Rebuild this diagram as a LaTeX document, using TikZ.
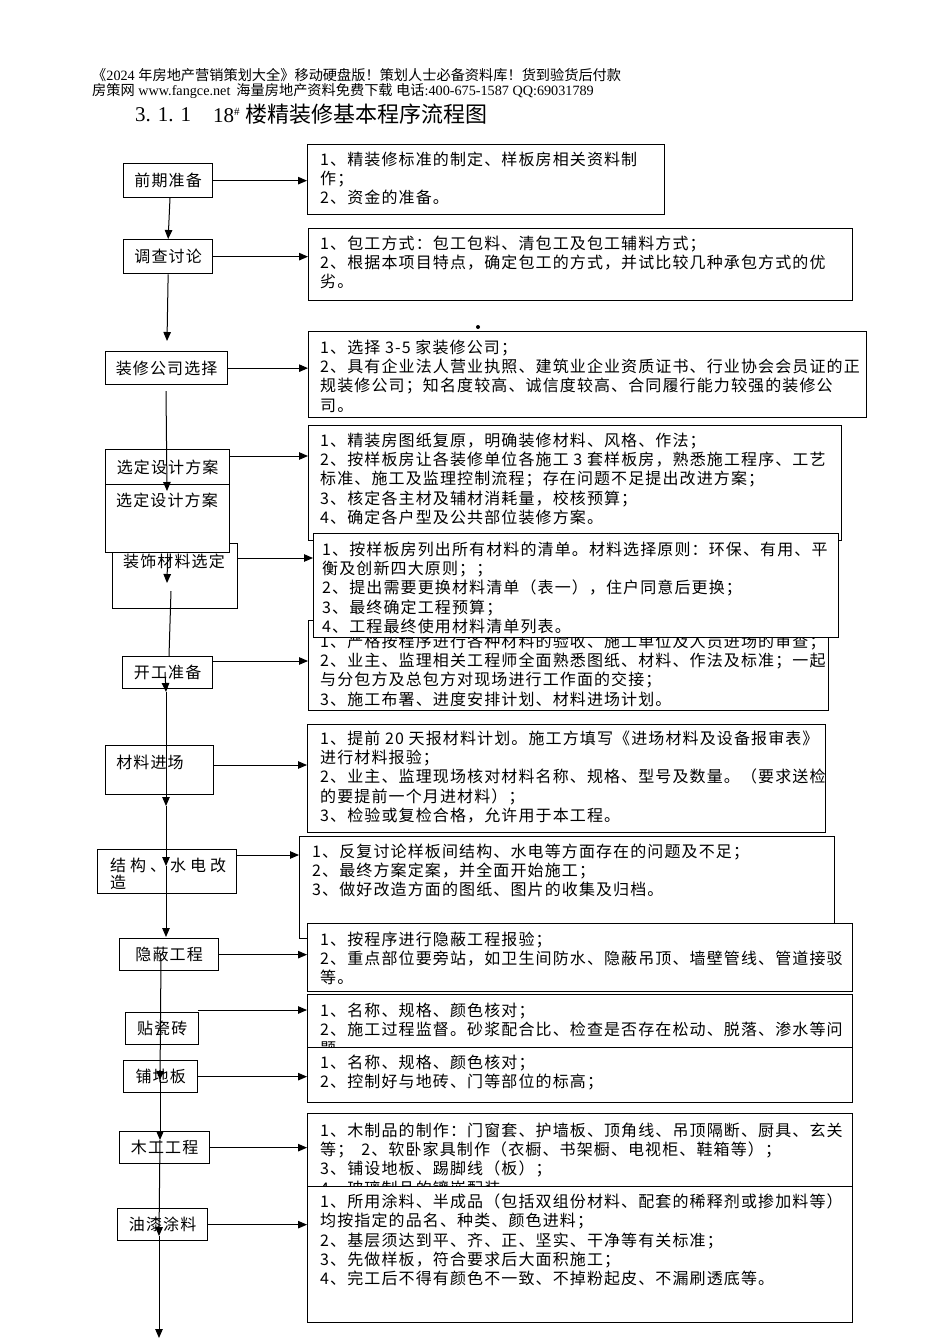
\documentclass[tikz,border=0pt]{standalone}
\usepackage{fontspec}
\setmainfont{Liberation Serif}
\newfontfamily\cjk[LetterSpace=7]{Noto Sans CJK SC}
\newfontfamily\cjkh{Noto Sans CJK SC}
\usetikzlibrary{arrows.meta}
\tikzset{
  box/.style={draw, line width=1.3pt, fill=white, inner sep=0pt, anchor=north west},
  lab/.style={font=\cjk\fontsize{16}{19.3}\selectfont, inner sep=0pt},
  body/.style={font=\cjk\fontsize{16}{19.3}\selectfont, align=left, inner sep=0pt, anchor=north west},
  arr/.style={-{Triangle[length=9pt,width=7.5pt]}, line width=1pt},
  ln/.style={line width=1pt}
}
\begin{document}
\begin{tikzpicture}[x=1pt,y=-1pt]
\useasboundingbox (0,0) rectangle (950,1344);
\fill[white] (0,0) rectangle (950,1344);

% header
\node[anchor=west, inner sep=0pt, font=\fontsize{14.2}{16}\selectfont] (h1) at (92,75)
  {{\cjkh 《}2024 {\cjkh 年房地产营销策划大全》移动硬盘版！策划人士必备资料库！货到验货后付款}};
\node[anchor=west, inner sep=0pt, font=\fontsize{14.2}{16}\selectfont] (h2) at (92,91)
  {{\cjkh 房策网} www.fangce.net\hspace{6pt}{\cjkh 海量房地产资料免费下载} {\cjkh 电话}:400-675-1587 QQ:69031789};
\node[anchor=west, inner sep=0pt, font=\fontsize{21}{24}\selectfont] (t0) at (135,115)
  {3.\hspace{7pt}1.\hspace{7pt}1};
\node[anchor=west, inner sep=0pt, font=\fontsize{21}{24}\selectfont] (t1) at (213,115)
  {18\raisebox{7pt}{\fontsize{11}{11}\selectfont\#}};
\node[anchor=west, inner sep=0pt, font=\cjkh\fontsize{22}{24}\selectfont] (t2) at (245,114)
  {楼精装修基本程序流程图};

% ---------- right boxes ----------
\node[box, minimum width=357pt, minimum height=70pt] (r1) at (307,144) {};
\node[body] (b1) at (320,151.5) {1、精装修标准的制定、样板房相关资料制\\作；\\2、资金的准备。};

\node[box, minimum width=544pt, minimum height=72pt] (r2) at (308,228) {};
\node[body] (b2) at (320,235.5) {1、包工方式：包工包料、清包工及包工辅料方式；\\2、根据本项目特点，确定包工的方式，并试比较几种承包方式的优\\劣。};

\fill (478,327) circle (2pt);

\node[box, minimum width=558pt, minimum height=86pt] (r3) at (308,331) {};
\node[body] (b3) at (320,339.5) {1、选择 3-5 家装修公司；\\2、具有企业法人营业执照、建筑业企业资质证书、行业协会会员证的正\\规装修公司；知名度较高、诚信度较高、合同履行能力较强的装修公\\司。};

\node[box, minimum width=533pt, minimum height=115pt] (r4) at (308,425) {};
\node[body] (b4) at (320,432.5) {1、精装房图纸复原，明确装修材料、风格、作法；\\2、按样板房让各装修单位各施工 3 套样板房，熟悉施工程序、工艺\\标准、施工及监理控制流程；存在问题不足提出改进方案；\\3、核定各主材及辅材消耗量，校核预算；\\4、确定各户型及公共部位装修方案。};

\node[box, minimum width=520pt, minimum height=90pt] (r6) at (308,620) {};
\node[body] (b6) at (320,633.5) {1、严格按程序进行各种材料的验收、施工单位及人员进场的审查；\\2、业主、监理相关工程师全面熟悉图纸、材料、作法及标准；一起\\与分包方及总包方对现场进行工作面的交接；\\3、施工布署、进度安排计划、材料进场计划。};

\node[box, minimum width=525pt, minimum height=104pt] (r5) at (313,533) {};
\node[body] (b5) at (322,541.5) {1、按样板房列出所有材料的清单。材料选择原则：环保、有用、平\\衡及创新四大原则；；\\2、提出需要更换材料清单（表一），住户同意后更换；\\3、最终确定工程预算；\\4、工程最终使用材料清单列表。};

\node[box, minimum width=518pt, minimum height=108pt] (r7) at (307,724) {};
\node[body] (b7) at (320,730.5) {1、提前 20 天报材料计划。施工方填写《进场材料及设备报审表》\\进行材料报验；\\2、业主、监理现场核对材料名称、规格、型号及数量。（要求送检\\的要提前一个月进材料）；\\3、检验或复检合格，允许用于本工程。};

\node[box, minimum width=535pt, minimum height=102pt] (r8) at (299,836) {};
\node[body] (b8) at (312,843.5) {1、反复讨论样板间结构、水电等方面存在的问题及不足；\\2、最终方案定案，并全面开始施工；\\3、做好改造方面的图纸、图片的收集及归档。};

\node[box, minimum width=545pt, minimum height=68pt] (r9) at (307,923) {};
\node[body] (b9) at (320,931.5) {1、按程序进行隐蔽工程报验；\\2、重点部位要旁站，如卫生间防水、隐蔽吊顶、墙壁管线、管道接驳\\等。};

\node[box, minimum width=545pt, minimum height=60pt] (r10) at (307,994) {};
\node[body] (b10) at (320,1002.5) {1、名称、规格、颜色核对；\\2、施工过程监督。砂浆配合比、检查是否存在松动、脱落、渗水等问\\题。};

\node[box, minimum width=545pt, minimum height=55pt] (r11) at (307,1047) {};
\node[body] (b11) at (320,1054.5) {1、名称、规格、颜色核对；\\2、控制好与地砖、门等部位的标高；};

\node[box, minimum width=545pt, minimum height=80pt] (r12) at (307,1113) {};
\node[body] (b12) at (320,1122.5) {1、木制品的制作：门窗套、护墙板、顶角线、吊顶隔断、厨具、玄关\\等；\hspace{8pt}2、软卧家具制作（衣橱、书架橱、电视柜、鞋箱等）；\\3、铺设地板、踢脚线（板）；\\4、玻璃制品的镶嵌配装};

\node[box, minimum width=545pt, minimum height=136pt] (r13) at (307,1186) {};
\node[body] (b13) at (320,1193.5) {1、所用涂料、半成品（包括双组份材料、配套的稀释剂或掺加料等）\\均按指定的品名、种类、颜色进料；\\2、基层须达到平、齐、正、坚实、干净等有关标准；\\3、先做样板，符合要求后大面积施工；\\4、完工后不得有颜色不一致、不掉粉起皮、不漏刷透底等。};

% ---------- left boxes ----------
\node[box, lab, minimum width=89pt, minimum height=34pt] (l1) at (123,163) {};
\node[lab] (n1) at (l1.center) {前期准备};
\node[box, lab, minimum width=89pt, minimum height=34pt] (l2) at (123,239) {};
\node[lab] (n2) at (l2.center) {调查讨论};
\node[box, lab, minimum width=122pt, minimum height=33pt] (l3) at (105,351) {};
\node[lab] (n3) at (l3.center) {装修公司选择};
\node[box, lab, minimum width=124pt, minimum height=35pt] (l4a) at (105,449) {};
\node[lab] (n4a) at (l4a.center) {选定设计方案};
\node[box, lab, minimum width=125pt, minimum height=65pt] (l5) at (112,543) {};
\node[lab] (n5) at (174,561) {装饰材料选定};
\node[box, lab, minimum width=124pt, minimum height=68pt] (l4b) at (105,484) {};
\node[lab] (n4b) at (167,500) {选定设计方案};
\node[box, lab, minimum width=90pt, minimum height=32pt] (l6) at (122,656) {};
\node[lab] (n6) at (l6.center) {开工准备};
\node[box, lab, minimum width=108pt, minimum height=49pt] (l7) at (105,745) {};
\node[lab] (n7) at (150,762) {材料进场};
\node[box, lab, minimum width=139pt, minimum height=44pt] (l8) at (97,849) {};
\node[lab, anchor=north west, align=left] (n8) at (110,858)
  {结\hspace{4pt}构\hspace{4pt}、\hspace{4pt}水\hspace{4pt}电\hspace{4pt}改\\[-2pt]造};
\node[box, lab, minimum width=99pt, minimum height=32pt] (l9) at (119,938) {};
\node[lab] (n9) at (l9.center) {隐蔽工程};
\node[box, lab, minimum width=73pt, minimum height=32pt] (l10) at (125,1012) {};
\node[lab] (n10) at (l10.center) {贴瓷砖};
\node[box, lab, minimum width=74pt, minimum height=32pt] (l11) at (123,1060) {};
\node[lab] (n11) at (l11.center) {铺地板};
\node[box, lab, minimum width=90pt, minimum height=32pt] (l12) at (119,1131) {};
\node[lab] (n12) at (l12.center) {木工工程};
\node[box, lab, minimum width=90pt, minimum height=32pt] (l13) at (117,1208) {};
\node[lab] (n13) at (l13.center) {油漆涂料};

% ---------- horizontal arrows ----------
\draw[arr] (l1.east) -- (l1.east -| r1.west);
\draw[arr] (l2.east) -- (l2.east -| r2.west);
\draw[arr] (l3.east) -- (l3.east -| r3.west);
\coordinate (a4) at (229,456);
\draw[arr] (a4) -- (a4 -| r4.west);
\coordinate (a5) at (237,558);
\draw[arr] (a5) -- (a5 -| r5.west);
\coordinate (a6) at (212,661);
\draw[arr] (a6) -- (a6 -| r6.west);
\coordinate (a7) at (213,765);
\draw[arr] (a7) -- (a7 -| r7.west);
\coordinate (a8) at (236,855);
\draw[arr] (a8) -- (a8 -| r8.west);
\draw[arr] (l9.east) -- (l9.east -| r9.west);
\coordinate (a10) at (198,1010);
\draw[arr] (a10) -- (a10 -| r10.west);
\draw[arr] (l11.east) -- (l11.east -| r11.west);
\draw[arr] (l12.east) -- (l12.east -| r12.west);
\draw[arr] (l13.east) -- (l13.east -| r13.west);

% ---------- vertical connectors ----------
\coordinate (c1) at (170,198);
\draw[arr] (c1) -- (l2.north);
\coordinate (c2) at (167,341);
\draw[arr] (l2.south) -- (c2);
\coordinate (c3a) at (166,391);
\coordinate (c3b) at (167,491);
\draw[arr] (c3a) -- (c3b);
\coordinate (c4) at (167,583);
\draw[arr] (l4b.south) -- (c4);
\coordinate (c5) at (171,591);
\draw[ln] (c5) -- (169,656);
\coordinate (c6) at (165,672);
\coordinate (c7) at (166,692);
\coordinate (c8) at (166,806);
\coordinate (c9) at (166,866);
\coordinate (c10) at (166,937);
\draw[arr] (c6) -- (c7);
\draw[arr] (c7) -- (c8);
\draw[arr] (c8) -- (c9);
\draw[arr] (c9) -- (c10);
\coordinate (c11) at (161,958);
\coordinate (c12) at (160,1080);
\coordinate (c13) at (160,1140);
\coordinate (c14) at (159,1236);
\coordinate (c15) at (159,1338);
\draw[arr] (c11) -- (c12);
\draw[arr] (c12) -- (c13);
\draw[arr] (c13) -- (c14);
\draw[arr] (c14) -- (c15);
\end{tikzpicture}
\end{document}
